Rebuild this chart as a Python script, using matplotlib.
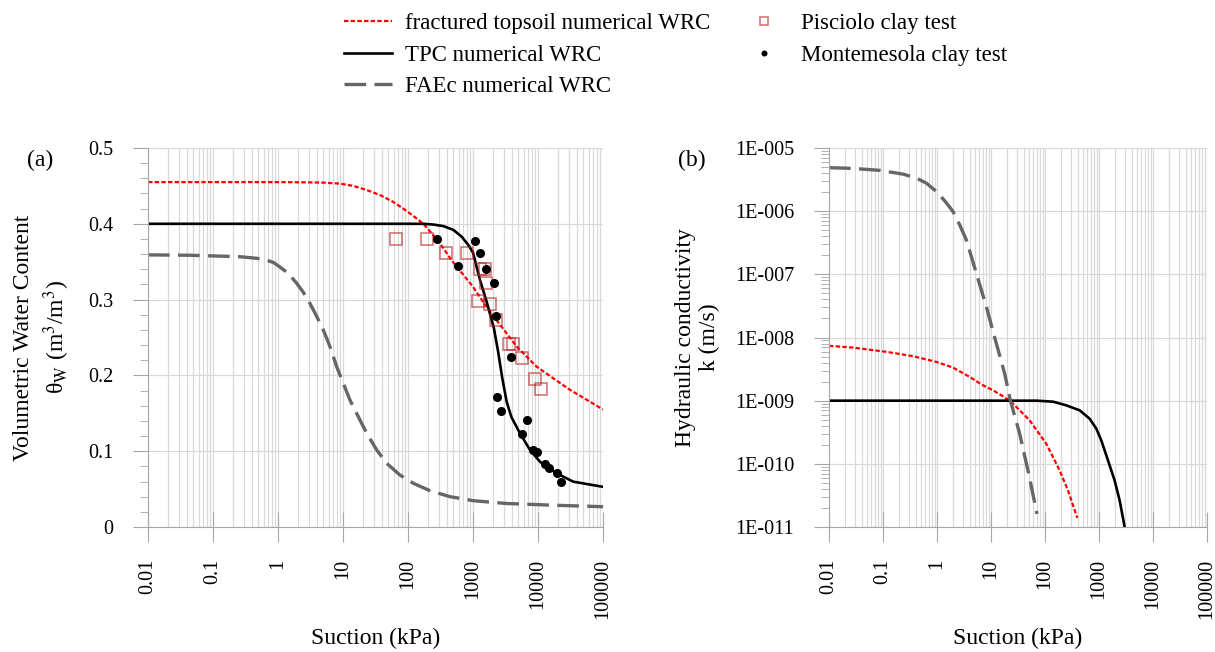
import numpy as np
import matplotlib
matplotlib.use("Agg")
import matplotlib.pyplot as plt
from matplotlib.ticker import FixedLocator, LogLocator, AutoMinorLocator, FuncFormatter, NullFormatter

plt.rcParams['font.family'] = ['Liberation Serif', 'DejaVu Serif']
plt.rcParams['mathtext.fontset'] = 'stix'

#%% data - (a) water retention
topsoil_s = [0.01, 0.1, 1, 2.76, 4.98, 9.0, 14.4, 23, 37, 59, 95, 136, 172, 245, 349, 467,
             1000, 1400, 2300, 4700, 9550, 19400, 31000, 100000]
topsoil_t = [0.455, 0.455, 0.455, 0.4547, 0.4543, 0.453, 0.45, 0.4446, 0.438, 0.429, 0.417, 0.407, 0.400,
             0.385, 0.368, 0.352, 0.317, 0.298, 0.273, 0.238, 0.2115, 0.193, 0.181, 0.155]

tpc_s = [0.01, 1, 100, 172, 245, 349, 498, 670, 848, 1000, 1280, 1625, 2100, 2450, 2800, 3300, 3900,
         5280, 7540, 10700, 19400, 34900, 100000]
tpc_t = [0.400, 0.400, 0.400, 0.400, 0.399, 0.397, 0.392, 0.383, 0.372, 0.362, 0.326, 0.297, 0.262, 0.23,
         0.198, 0.165, 0.145, 0.1236, 0.1016, 0.0862, 0.0708, 0.0598, 0.053]

faec_s = [0.01, 0.044, 0.26, 0.47, 0.67, 0.85, 1.07, 1.44, 1.94, 2.45, 3.1, 3.93, 4.98, 6.3, 8.0, 10.1,
          12.8, 17.2, 23.2, 33, 47, 75, 121, 218, 443, 1012, 3300, 19400, 100000]
faec_t = [0.359, 0.3585, 0.3566, 0.3545, 0.352, 0.349, 0.343, 0.3347, 0.3215, 0.3096, 0.295, 0.278, 0.26,
          0.238, 0.2115, 0.1896, 0.1675, 0.1455, 0.1236, 0.1016, 0.084, 0.0686, 0.0576, 0.0479, 0.040,
          0.0347, 0.031, 0.0286, 0.0268]

pisciolo_s = [65, 194, 384, 818, 1282, 1530, 1585, 1207, 1828, 2233, 3581, 4170, 5675, 8995, 11247]
pisciolo_t = [0.38, 0.38, 0.361, 0.361, 0.340, 0.340, 0.3215, 0.2985, 0.294, 0.273, 0.241, 0.241, 0.2225, 0.195, 0.182]

montemesola_s = [282, 1074, 1267, 594, 1603, 2104, 2259, 3890, 2366, 2728, 6840, 5728, 8284, 9550, 12680, 14760, 19600, 22800]
montemesola_t = [0.38, 0.377, 0.362, 0.344, 0.340, 0.322, 0.279, 0.224, 0.172, 0.153, 0.1407, 0.123, 0.102, 0.0993, 0.0827, 0.0774, 0.0716, 0.0598]

#%% data - (b) hydraulic conductivity
k_topsoil_s = [0.01, 0.0278, 0.1153, 0.36, 0.973, 1.977, 4.03, 7.11, 10.9, 16.7, 23.8, 34, 52, 74.1,
               106, 140.6, 187, 267, 397]
k_topsoil = [7.38e-9, 6.93e-9, 5.93e-9, 5.06e-9, 4.11e-9, 3.34e-9, 2.38e-9, 1.75e-9, 1.46e-9, 1.17e-9,
             9.53e-10, 7.03e-10, 4.88e-10, 3.18e-10, 2.07e-10, 1.28e-10, 7.83e-11, 3.78e-11, 1.39e-11]

k_tpc_s = [0.01, 1, 10, 69.2, 140.6, 248, 439, 671, 893, 1104, 1469, 1950, 2415, 2985]
k_tpc = [1e-9, 1e-9, 1e-9, 1e-9, 9.64e-10, 8.43e-10, 7.03e-10, 5.18e-10, 3.6e-10, 2.34e-10, 1.13e-10,
         5.43e-11, 2.62e-11, 1e-11]

k_faec_s = [0.01, 0.0278, 0.0867, 0.2344, 0.414, 0.634, 0.973, 1.387, 1.977, 2.63, 3.49, 4.33, 5.35,
            8.2, 12.56, 17.9, 22.8, 34, 48.4, 71.1]
k_faec = [4.88e-6, 4.75e-6, 4.43e-6, 3.86e-6, 3.34e-6, 2.78e-6, 2.05e-6, 1.46e-6, 9.89e-7, 6.07e-7,
          3.51e-7, 1.91e-7, 1.04e-7, 3.07e-8, 8.04e-9, 2.68e-9, 1.01e-9, 2.99e-10, 7.83e-11, 1.61e-11]

xticks = [0.01, 0.1, 1, 10, 100, 1000, 10000, 100000]

grey = '#a6a6a6'
gridc = '#d9d9d9'

fig = plt.figure(figsize=(12.15, 6.52), dpi=100)
ax1 = fig.add_axes([148/1215, 125/652, 455/1215, 379/652])
ax2 = fig.add_axes([829/1215, 125/652, 378/1215, 379/652])

l1, = ax1.plot(topsoil_s, topsoil_t, color='red', lw=1.6, ls=(0, (2, 1)), label='fractured topsoil numerical WRC')
l2, = ax1.plot(tpc_s, tpc_t, color='black', lw=1.9, label='TPC numerical WRC')
l3, = ax1.plot(faec_s, faec_t, color='#666666', lw=2.4, ls=(0, (6.5, 2.5)), label='FAEc numerical WRC')
m1, = ax1.plot(pisciolo_s, pisciolo_t, ls='none', marker='s', ms=8.5, mfc='none', mec='#b02020', mew=1.1, alpha=0.65,
               label='Pisciolo clay test')
m2, = ax1.plot(montemesola_s, montemesola_t, ls='none', marker='o', ms=5.5, color='black', label='Montemesola clay test')

ax2.plot(k_topsoil_s, k_topsoil, color='red', lw=1.6, ls=(0, (2, 1)))
ax2.plot(k_tpc_s, k_tpc, color='black', lw=1.9)
ax2.plot(k_faec_s, k_faec, color='#666666', lw=2.4, ls=(0, (6.5, 2.5)))

for ax in (ax1, ax2):
    ax.set_xscale('log')
    ax.set_xlim(0.01, 100000)
    ax.xaxis.set_major_locator(FixedLocator(xticks))
    ax.xaxis.set_minor_locator(LogLocator(base=10, subs=np.arange(2, 10), numticks=100))
    ax.xaxis.set_minor_formatter(NullFormatter())
    ax.xaxis.set_major_formatter(FuncFormatter(lambda v, p: '%g' % v if v < 1 else '%d' % round(v)))
    ax.tick_params(axis='x', which='major', direction='inout', length=22, color=grey, labelsize=14.5,
                   labelrotation=90, pad=12)
    ax.tick_params(axis='x', which='minor', length=0)
    ax.tick_params(axis='y', which='major', direction='out', length=11, color=grey, labelsize=14.5, pad=14)
    ax.tick_params(axis='y', which='minor', direction='out', length=6, color=grey)
    ax.grid(True, which='major', color=gridc, lw=0.9)
    ax.grid(True, which='minor', axis='x', color=gridc, lw=0.9)
    ax.set_axisbelow(True)
    for s in ('top', 'right'):
        ax.spines[s].set_visible(False)
    for s in ('left', 'bottom'):
        ax.spines[s].set_color(grey)
    ax.set_xlabel('Suction (kPa)', fontsize=17)
    ax.xaxis.set_label_coords(0.5, -0.265)
    for lab in ax.get_xticklabels():
        lab.set_va('top')

ax1.set_ylim(0, 0.5)
ax1.set_yticks([0, 0.1, 0.2, 0.3, 0.4, 0.5])
ax1.yaxis.set_major_formatter(FuncFormatter(lambda v, p: '%g' % round(v, 2)))
ax1.yaxis.set_minor_locator(AutoMinorLocator(5))
ax1.set_ylabel('Volumetric Water Content\n' + 'θ$_{\\rm W}$ (m$^3$/m$^3$)', fontsize=17, linespacing=1.35)
ax1.yaxis.set_label_coords(-0.167, 0.5)

ax2.set_yscale('log')
ax2.set_ylim(1e-11, 1e-5)
ax2.yaxis.set_major_locator(FixedLocator([1e-11, 1e-10, 1e-9, 1e-8, 1e-7, 1e-6, 1e-5]))
ax2.yaxis.set_minor_locator(LogLocator(base=10, subs=np.arange(2, 10), numticks=100))
ax2.yaxis.set_minor_formatter(NullFormatter())
ax2.yaxis.set_major_formatter(FuncFormatter(lambda v, p: '1E-%03d' % round(-np.log10(v))))
ax2.set_ylabel('Hydraulic conductivity\nk (m/s)', fontsize=17)
ax2.yaxis.set_label_coords(-0.288, 0.5)

fig.text(40/1215, 1 - 160/652, '(a)', fontsize=17, ha='center', va='center')
fig.text(692/1215, 1 - 160/652, '(b)', fontsize=17, ha='center', va='center')

fig.legend(handles=[l1, l2, l3, m1, m2], loc='upper center', bbox_to_anchor=(0.556, 1.011), ncol=2,
           frameon=False, fontsize=16.5, handlelength=2.1, handletextpad=0.55, columnspacing=1.3,
           labelspacing=0.45, markerscale=0.6)

fig.savefig('out.png', dpi=100)
